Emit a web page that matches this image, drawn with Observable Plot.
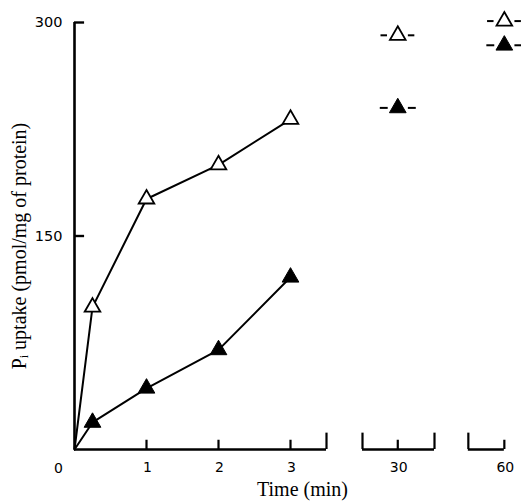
<!DOCTYPE html>
<html><head><meta charset="utf-8">
<script src="https://cdn.jsdelivr.net/npm/d3@7"></script>
<script src="https://cdn.jsdelivr.net/npm/@observablehq/plot@0.6"></script>
<style>body{margin:0;background:#fff}</style>
</head><body><div id="chart"></div>
<script>
// Data
const times = [0, 0.25, 1, 2, 3, 30, 60];
const openUptake = [0, 100, 176, 200, 232, 291, 301];
const filledUptake = [0, 19, 43, 70, 121, 240, 284];
const xTickValues = [1, 2, 3, 30, 60];
const xOriginLabel = [0];
const yTickValues = [150, 300];
const xTitle = "Time (min)";
const yTitle = "P\u1D62 uptake (pmol/mg of protein)";

// Broken time axis: 0–3.5 min, then short segments holding 30 and 60 min
const breakPos = new Map([[30, 4.49], [60, 5.97]]);
const pos = t => breakPos.has(t) ? breakPos.get(t) : t;
const segments = [[0, 3.5], [4.0, 5.0], [5.47, 5.97]];
const segEndsTall = [3.5, 4.0, 5.0, 5.47];

const rows = times.map((t, i) => ({t, p: pos(t), open: openUptake[i], filled: filledUptake[i]}));
const early = rows.filter(d => d.t <= 3);
const measured = rows.filter(d => d.t > 0);
const late = rows.filter(d => d.t > 3);
const dashes = late.flatMap(d => [
  {x1: d.p - 0.24, x2: d.p - 0.15, y: d.open},
  {x1: d.p + 0.14, x2: d.p + 0.23, y: d.open},
  {x1: d.p - 0.25, x2: d.p - 0.14, y: d.filled},
  {x1: d.p + 0.14, x2: d.p + 0.25, y: d.filled}
]);

const sans = "DejaVu Sans";
const serif = "Liberation Serif";

const chart = Plot.plot({
  width: 521,
  height: 501,
  marginLeft: 74,
  marginRight: 15,
  marginTop: 22,
  marginBottom: 52,
  x: {domain: [0, 6], axis: null},
  y: {domain: [0, 300], axis: null},
  style: {background: "white", color: "black"},
  marks: [
    // axes
    Plot.ruleX([0], {y1: 0, y2: 300, strokeWidth: 2.6}),
    Plot.ruleY(yTickValues, {x1: 0, x2: 0.14, y: d => d, strokeWidth: 2.4}),
    Plot.ruleY(segments, {x1: d => d[0], x2: d => d[1], y: 0, strokeWidth: 2.6}),
    Plot.ruleX(segEndsTall, {x: d => d, y1: 0, y2: 11.5, strokeWidth: 2.2}),
    Plot.ruleX(xTickValues, {x: pos, y1: 0, y2: 6.5, strokeWidth: 2.2}),
    Plot.text(yTickValues, {x: 0, y: d => d, text: d => String(d), textAnchor: "end", dx: -12, fontFamily: sans, fontSize: 14.5}),
    Plot.text(xTickValues, {x: pos, y: 0, text: d => String(d), dy: 18, dx: 1, fontFamily: sans, fontSize: 14}),
    Plot.text(xOriginLabel, {x: pos, y: 0, text: d => String(d), dy: 19, dx: -16, fontFamily: sans, fontSize: 14}),
    Plot.text([xTitle], {frameAnchor: "bottom", textAnchor: "middle", dx: 12, dy: 46, fontFamily: serif, fontSize: 20, letterSpacing: 0.8}),
    Plot.text([yTitle], {frameAnchor: "left", textAnchor: "middle", rotate: -90, dx: -55, dy: 10, fontFamily: serif, fontSize: 20, letterSpacing: 0.7}),
    // data
    Plot.line(early, {x: "p", y: "open", stroke: "black", strokeWidth: 2}),
    Plot.line(early, {x: "p", y: "filled", stroke: "black", strokeWidth: 2}),
    Plot.link(dashes, {x1: "x1", x2: "x2", y1: "y", y2: "y", stroke: "black", strokeWidth: 2}),
    Plot.dot(measured, {x: "p", y: "open", symbol: "triangle", r: 5.8, fill: "white", stroke: "black", strokeWidth: 1.8}),
    Plot.dot(measured, {x: "p", y: "filled", symbol: "triangle", r: 6.2, fill: "black", stroke: "black", strokeWidth: 1})
  ]
});
document.getElementById("chart").append(chart);
</script>
</body></html>
